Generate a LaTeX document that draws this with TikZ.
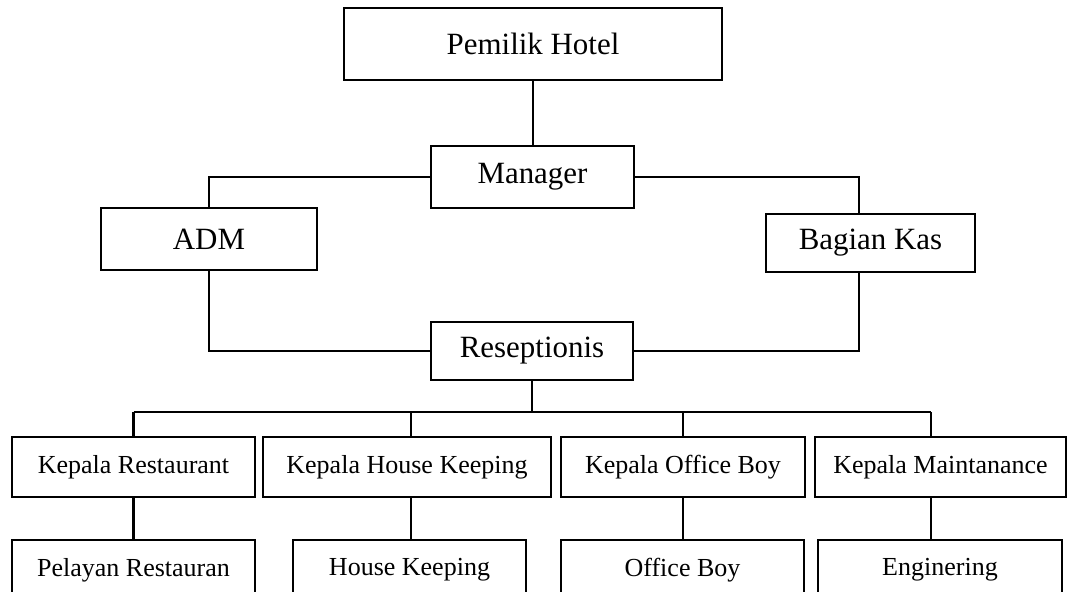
\documentclass[tikz,border=0pt]{standalone}
\usepackage{fontspec}
\setmainfont{Liberation Serif}

\begin{document}
\begin{tikzpicture}[x=0.02cm, y=-0.02cm,
    box/.style={draw, line width=1.3pt, inner sep=0pt, minimum height=1.2cm,
        font=\fontsize{17.6}{20}\selectfont},
    smallbox/.style={box, font=\fontsize{14.8}{17}\selectfont},
    link/.style={line width=1.3pt}]
    \useasboundingbox (0,0) rectangle (1069,592);

    % Upper levels
    \node[box, minimum width=7.56cm, minimum height=1.44cm] (pemilik) at (533,44) {Pemilik Hotel};
    \node[box, minimum width=4.06cm, minimum height=1.24cm] (manager) at (532.5,177) {Manager};
    \node[box, minimum width=4.32cm, minimum height=1.24cm] (adm) at (209,239) {ADM};
    \node[box, minimum width=4.18cm, minimum height=1.16cm] (kas) at (870.5,243) {Bagian Kas};
    \node[box, minimum width=4.04cm, minimum height=1.16cm] (resep) at (532,351) {Reseptionis};

    % Heads of sections
    \node[smallbox, minimum width=4.86cm] (kr) at (133.5,467) {Kepala Restaurant};
    \node[smallbox, minimum width=5.76cm] (kh) at (407,467) {Kepala House Keeping};
    \node[smallbox, minimum width=4.88cm] (ko) at (683,467) {Kepala Office Boy};
    \node[smallbox, minimum width=5.02cm] (km) at (940.5,467) {Kepala Maintanance};

    % Staff (cut off at the bottom)
    \node[smallbox, minimum width=4.86cm] (pr) at (133.5,570) {Pelayan Restauran};
    \node[smallbox, minimum width=4.66cm] (hk) at (409.5,570) {House Keeping};
    \node[smallbox, minimum width=4.86cm] (ob) at (682.5,570) {Office Boy};
    \node[smallbox, minimum width=4.88cm] (en) at (940,570) {Enginering};

    % Connections
    \coordinate (kasx) at (859,0);
    \coordinate (busl) at (133.5,412);
    \coordinate (busr) at (931,412);
    \draw[link] (pemilik.south) -- (pemilik.south |- manager.north);
    \draw[link] (manager.west) -| (adm.north);
    \draw[link] (manager.east) -| (kasx |- kas.north);
    \draw[link] (adm.south) |- (resep.west);
    \draw[link] (kasx |- kas.south) |- (resep.east);
    \draw[link] (resep.south) -- (resep.south |- busl);
    \draw[link] (busl) -- (busr);
    \foreach \a/\b/\dx in {kr/pr/0, kh/hk/0.08, ko/ob/0, km/en/-0.19} {
        \draw[link] ([xshift=\dx cm]\a.north) -- ([xshift=\dx cm]\a.north |- busl);
        \draw[link] ([xshift=\dx cm]\a.south) -- ([xshift=\dx cm]\a.south |- \b.north);
    }

\end{tikzpicture}
\end{document}
